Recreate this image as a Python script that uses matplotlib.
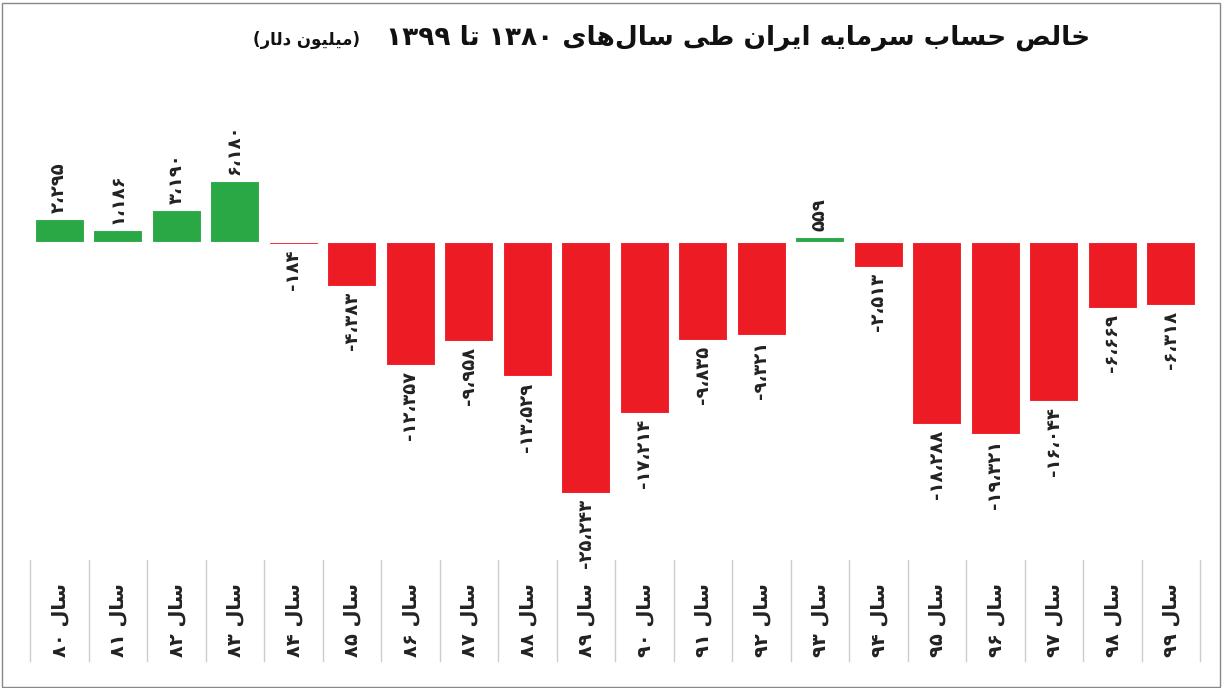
import matplotlib
matplotlib.use("Agg")
import matplotlib.pyplot as plt
from matplotlib.lines import Line2D
from matplotlib.patches import Rectangle

years = ["۸۰","۸۱","۸۲","۸۳","۸۴","۸۵","۸۶","۸۷","۸۸","۸۹","۹۰","۹۱","۹۲","۹۳","۹۴","۹۵","۹۶","۹۷","۹۸","۹۹"]
values = [2295, 1186, 3190, 6180, -184, -4383, -12357, -9958, -13529, -25243,
          -17214, -9835, -9321, 559, -2513, -18288, -19321, -16044, -6669, -6318]
title_main = "خالص حساب سرمایه ایران طی سال‌های ۱۳۸۰ تا ۱۳۹۹"
title_unit = "میلیون دلار"
year_prefix = "سال"

# minimal Arabic/Persian shaper (isolated, final, initial, medial)
FORMS = {
    'ا': (0xFE8D, 0xFE8E, None, None), 'ب': (0xFE8F, 0xFE90, 0xFE91, 0xFE92),
    'ت': (0xFE95, 0xFE96, 0xFE97, 0xFE98), 'ح': (0xFEA1, 0xFEA2, 0xFEA3, 0xFEA4),
    'خ': (0xFEA5, 0xFEA6, 0xFEA7, 0xFEA8), 'د': (0xFEA9, 0xFEAA, None, None),
    'ر': (0xFEAD, 0xFEAE, None, None), 'س': (0xFEB1, 0xFEB2, 0xFEB3, 0xFEB4),
    'ص': (0xFEB9, 0xFEBA, 0xFEBB, 0xFEBC), 'ط': (0xFEC1, 0xFEC2, 0xFEC3, 0xFEC4),
    'ل': (0xFEDD, 0xFEDE, 0xFEDF, 0xFEE0), 'م': (0xFEE1, 0xFEE2, 0xFEE3, 0xFEE4),
    'ن': (0xFEE5, 0xFEE6, 0xFEE7, 0xFEE8), 'ه': (0xFEE9, 0xFEEA, 0xFEEB, 0xFEEC),
    'و': (0xFEED, 0xFEEE, None, None), 'ی': (0xFBFC, 0xFBFD, 0xFBFE, 0xFBFF),
}

def shape_word(w):
    out = []
    chars = list(w)
    n = len(chars)
    for i, c in enumerate(chars):
        if c not in FORMS:
            out.append(c); continue
        f = FORMS[c]
        prev = chars[i-1] if i > 0 else None
        nxt = chars[i+1] if i < n-1 else None
        jp = prev in FORMS and FORMS[prev][2] is not None
        jn = nxt in FORMS and f[2] is not None
        if jp and jn: code = f[3]
        elif jp: code = f[1]
        elif jn: code = f[2]
        else: code = f[0]
        out.append(chr(code))
    s = "".join(out).replace("\u200c", "")
    return s[::-1]

def is_digitish(t):
    return all(ch in "۰۱۲۳۴۵۶۷۸۹،-−0123456789," for ch in t)

def visual(text):
    res = [t if is_digitish(t) else shape_word(t) for t in text.split(" ")]
    return " ".join(res[::-1])

def fa_num(v):
    d = "۰۱۲۳۴۵۶۷۸۹"
    s = f"{abs(v):,}".replace(",", "،")
    s = "".join(d[int(c)] if c.isdigit() else c for c in s)
    return ("-" + s) if v < 0 else s

plt.rcParams["font.family"] = "DejaVu Sans"
W, H = 1222, 688
fig = plt.figure(figsize=(W/100, H/100), dpi=100)
fig.patches.append(Rectangle((0.002, 0.002), 0.996, 0.994, transform=fig.transFigure,
                             fill=False, edgecolor="#888888", lw=1))

ax = fig.add_axes([30/W, 1-560/H, 1170/W, 460/H])
x = list(range(len(values)))
cols = ["#2aa845" if v > 0 else "#ed1c24" for v in values]
ax.bar(x, values, width=0.84, color=cols, edgecolor="white", linewidth=0.8)
ax.set_xlim(-0.5, len(values)-0.5)
ax.set_ylim(-32000, 14300)
ax.axis("off")

for xi, v in zip(x, values):
    if v >= 0:
        ax.text(xi, v + 600, fa_num(v), rotation=90, ha="center", va="bottom",
                fontsize=13, fontweight="bold", color="#222222")
    else:
        ax.text(xi, v - 600, fa_num(v), rotation=90, ha="center", va="top",
                fontsize=13, fontweight="bold", color="#222222")

for k in range(len(values)+1):
    ax.add_line(Line2D([k-0.5, k-0.5], [0.0, -0.22], transform=ax.get_xaxis_transform(),
                       color="#cccccc", lw=1, clip_on=False))
for xi, y in zip(x, years):
    ax.text(xi, -0.05, visual(year_prefix + " " + y), rotation=90, ha="center", va="top",
            transform=ax.get_xaxis_transform(), fontsize=14, fontweight="bold", color="#222222")

fig.text(1090/W, 1-38/H, visual(title_main), ha="right", va="center",
         fontsize=19, fontweight="bold", color="#111111")
fig.text(360/W, 1-40/H, "(" + visual(title_unit) + ")", ha="right", va="center",
         fontsize=12, fontweight="bold", color="#111111")

fig.savefig("out.png", dpi=100)
